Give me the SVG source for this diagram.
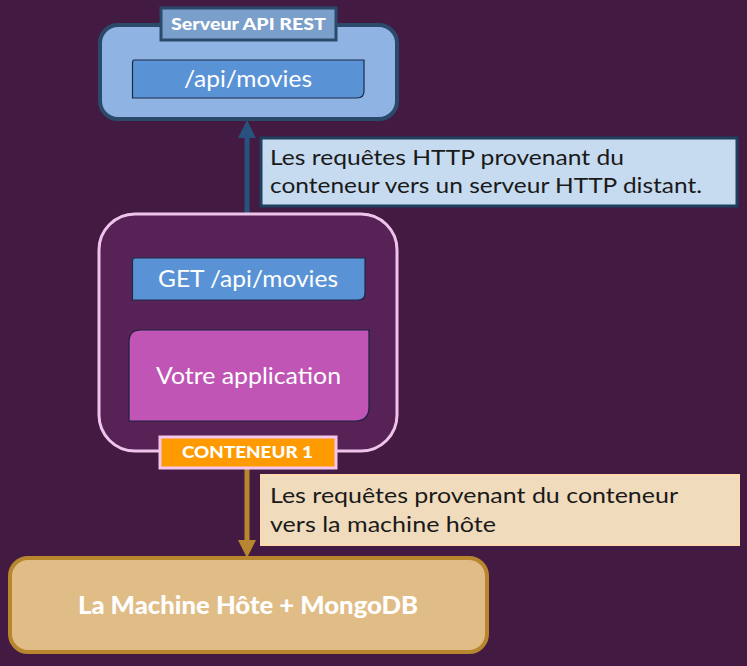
<svg xmlns="http://www.w3.org/2000/svg" width="747" height="666" viewBox="0 0 747 666">
<defs>
<style>
.t{font-family:Lato,"Noto Sans",sans-serif;}
.w{fill:#ffffff;}
.lbl{font-weight:900;font-size:17px;fill:#ffffff;}
.blue{fill:#5a93d5;stroke:#1a2a4a;stroke-width:1.2;}
.note{font-size:22px;fill:#1a1a1a;}
</style>
</defs>
<rect width="747" height="666" fill="#421a42"/>

<g id="connectors">
<line x1="247" y1="256" x2="247" y2="136" stroke="#27527e" stroke-width="5"/>
<polygon points="247,120 238,138 256,138" fill="#27527e"/>
<line x1="248" y1="330" x2="248" y2="316" stroke="#c058b8" stroke-width="5"/>
<polygon points="248,302 239,318 257,318" fill="#c058b8"/>
<line x1="247" y1="468" x2="247" y2="543" stroke="#b8862e" stroke-width="5"/>
<polygon points="247,558 238,540 256,540" fill="#b8862e"/>
</g>

<g id="server">
<rect x="100" y="25" width="297" height="94" rx="18" fill="#8fb4e3" stroke="#2b4a6b" stroke-width="4"/>
<rect x="161" y="8" width="175" height="32" fill="#7a9fcb" stroke="#2b4a6b" stroke-width="3"/>
<text class="t lbl" x="171" y="30" textLength="155" lengthAdjust="spacingAndGlyphs">Serveur API REST</text>
<path class="blue" d="M134,60 H364 V91 Q364,98 357,98 H132.5 V63 Q132.5,60 134,60 Z"/>
<text class="t w" x="184" y="87" font-size="24" textLength="128" lengthAdjust="spacingAndGlyphs">/api/movies</text>
</g>

<g id="note-http">
<rect x="261" y="138" width="476" height="68" fill="#c6dbf0" stroke="#1f3f5f" stroke-width="3"/>
<text class="t note" x="270" y="165" textLength="354" lengthAdjust="spacingAndGlyphs">Les requêtes HTTP provenant du</text>
<text class="t note" x="270" y="193" textLength="432" lengthAdjust="spacingAndGlyphs">conteneur vers un serveur HTTP distant.</text>
</g>

<g id="container">
<rect x="99" y="214" width="298" height="237" rx="36" fill="#572255" stroke="#f0c4ea" stroke-width="3"/>
<path class="blue" d="M135,258 H365 V293 Q365,300 358,300 H132.5 V261 Q132.5,258 135,258 Z"/>
<text class="t w" x="158" y="287" font-size="24" textLength="180" lengthAdjust="spacingAndGlyphs">GET /api/movies</text>
<path d="M141,330 H369 V407 Q369,421 355,421 H129 V342 Q129,330 141,330 Z" fill="#c055b5" stroke="#1a2040" stroke-width="1.2"/>
<text class="t w" x="156" y="384" font-size="24" textLength="185" lengthAdjust="spacingAndGlyphs">Votre application</text>
<rect x="160" y="437" width="176" height="31" fill="#ff9a00" stroke="#f4c6ec" stroke-width="3"/>
<text class="t lbl" x="182" y="458" textLength="131" lengthAdjust="spacingAndGlyphs">CONTENEUR 1</text>
</g>

<g id="note-host">
<rect x="261" y="475" width="478" height="70" fill="#f0dbbc" stroke="#fcd9b0" stroke-width="2"/>
<text class="t note" x="270" y="503" textLength="408" lengthAdjust="spacingAndGlyphs">Les requêtes provenant du conteneur</text>
<text class="t note" x="270" y="532" textLength="226" lengthAdjust="spacingAndGlyphs">vers la machine hôte</text>
</g>

<g id="host">
<rect x="10" y="558" width="477" height="94" rx="18" fill="#e0bc86" stroke="#b8862e" stroke-width="4"/>
<text class="t w" x="78" y="614" font-size="25" font-weight="900" textLength="340" lengthAdjust="spacingAndGlyphs">La Machine Hôte + MongoDB</text>
</g>
</svg>
